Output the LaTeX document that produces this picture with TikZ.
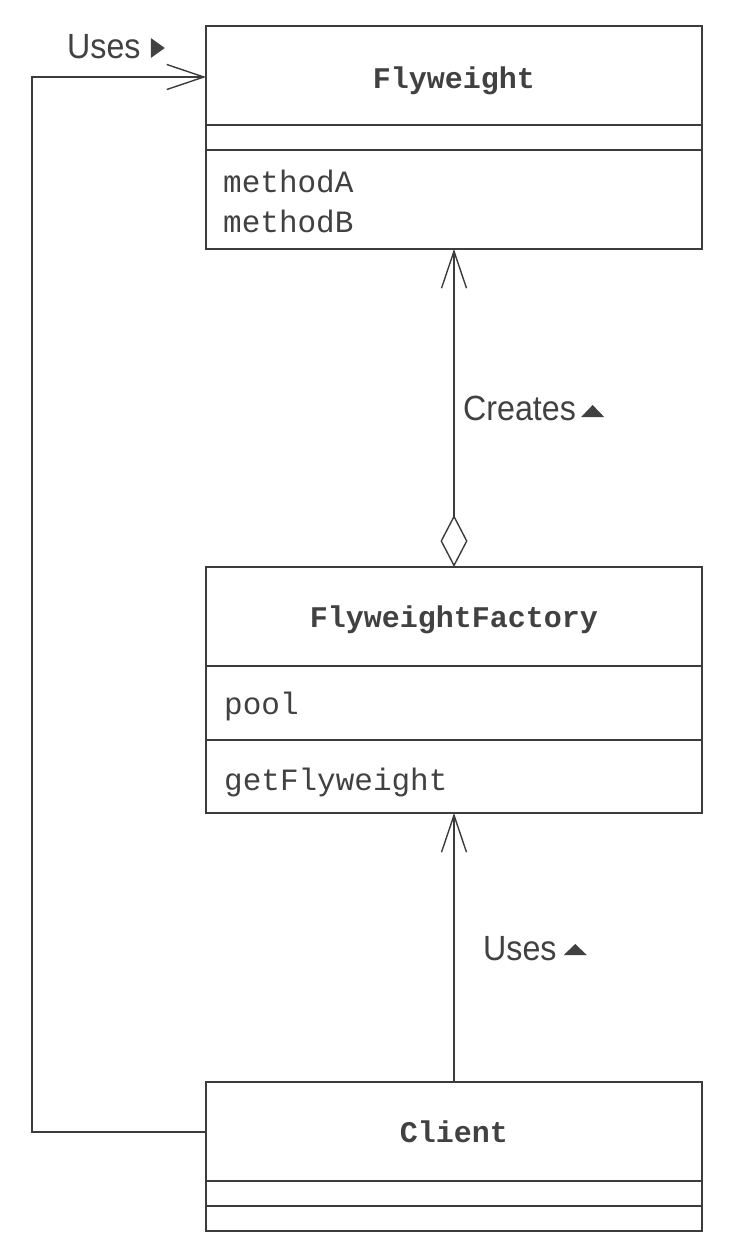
\documentclass[tikz,border=0pt]{standalone}
\usepackage{fontspec}
\setmainfont{Liberation Sans}
\newfontfamily\labfont[FakeStretch=0.92]{Liberation Sans}
\newfontfamily\codefont{Liberation Mono}
\usetikzlibrary{arrows.meta,calc}
\definecolor{ink}{RGB}{60,60,60}
\definecolor{txt}{RGB}{65,65,65}
\tikzset{
  classbox/.style={draw=ink, line width=1.4pt, rectangle, inner sep=0pt, outer sep=0pt,
    anchor=north west, minimum width=496pt},
  divider/.style={draw=ink, line width=1.2pt},
  cname/.style={font=\codefont\bfseries\fontsize{30}{36}\selectfont, text=txt, inner sep=0pt, anchor=base},
  member/.style={font=\codefont\fontsize{31}{40}\selectfont, text=txt, inner sep=0pt, anchor=base west},
  lab/.style={font=\labfont\fontsize{35}{40}\selectfont, text=txt, inner sep=0pt, anchor=base west},
  conn/.style={draw=ink, line width=1.4pt},
  openhead/.style={-{Straight Barb[length=37pt, width=25pt]}},
  aggr/.style={{Diamond[open, length=52pt, width=27pt]}-{Straight Barb[length=37pt, width=25pt]}},
}
\begin{document}
\begin{tikzpicture}[x=1pt, y=-1pt]
\useasboundingbox (0,0) rectangle (750,1256);
\fill[white] (0,0) rectangle (750,1256);
% Flyweight
\node[classbox, minimum height=223pt] (fw) at (206,26) {};
\draw[divider] (206,125) -- (702,125);
\draw[divider] (206,150) -- (702,150);
\node[cname] (fwname) at (454,88) {Flyweight};
\node[member] (mA) at (223,192) {methodA};
\node[member] (mB) at (223,232) {methodB};
% FlyweightFactory
\node[classbox, minimum height=246pt] (fac) at (206,567) {};
\draw[divider] (206,666) -- (702,666);
\draw[divider] (206,740) -- (702,740);
\node[cname] (facname) at (454,627) {FlyweightFactory};
\node[member] (pool) at (224,714) {pool};
\node[member] (getfw) at (224,790) {getFlyweight};
% Client
\node[classbox, minimum height=149pt] (client) at (206,1082) {};
\draw[divider] (206,1181) -- (702,1181);
\draw[divider] (206,1206) -- (702,1206);
\node[cname] (clname) at (454,1142) {Client};
% connectors
\draw[conn, aggr] (fac.north) -- (fw.south);
\draw[conn, openhead] (client.north) -- (fac.south);
\coordinate (clOut) at ($(client.north west)+(0,50)$);
\coordinate (fwIn) at ($(fw.north west)+(0,51)$);
\draw[conn, openhead] (clOut) -- ++(-174,0) |- (fwIn);
% labels
\node[lab] (usesTop) at (67,58) {Uses};
\fill[txt] ($(usesTop.base east)+(10,-20)$) -- ++(0,20) -- ++(14,-10) -- cycle;
\node[lab] (creates) at (463,420) {Creates};
\fill[txt] ($(creates.base east)+(5,-3)$) -- ++(23,0) -- ++(-11.5,-12) -- cycle;
\node[lab] (usesLow) at (483,960) {Uses};
\fill[txt] ($(usesLow.base east)+(7,-5)$) -- ++(23,0) -- ++(-11.5,-11) -- cycle;
\end{tikzpicture}
\end{document}
